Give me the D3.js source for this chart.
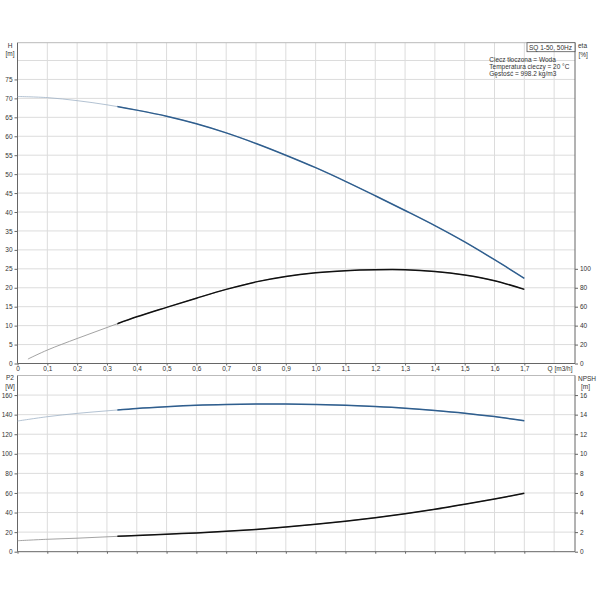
<!DOCTYPE html>
<html>
<head>
<meta charset="utf-8">
<script src="https://cdn.jsdelivr.net/npm/d3@7"></script>
<style>
  body { margin: 0; background: #fff; }
  svg text { font-family: "Liberation Sans", Arial, sans-serif; font-size: 6.5px; fill: #333; }
  .grid line { stroke: #dcdcdc; stroke-width: 1; }
  .axis path, .axis line { stroke: #666; }
</style>
</head>
<body>
<div id="chart"></div>
<script>
// flow points [m3/h]
var qMain = [0, 0.1, 0.2, 0.3, 0.4, 0.5, 0.6, 0.7, 0.8, 0.9, 1.0, 1.1, 1.2, 1.3, 1.4, 1.5, 1.6, 1.7];
var qEta = [0.035, 0.1, 0.2, 0.3, 0.4, 0.5, 0.6, 0.7, 0.8, 0.9, 1.0, 1.1, 1.2, 1.3, 1.4, 1.5, 1.6, 1.7];

// series
var headVals = [70.5, 70.2, 69.4, 68.3, 66.9, 65.3, 63.3, 60.9, 58.1, 55.0, 51.7, 48.1, 44.3, 40.4, 36.4, 32.1, 27.4, 22.5];
var etaVals = [4.7, 14.2, 26.4, 38.0, 49.3, 59.3, 69.0, 78.3, 86.2, 92.0, 95.8, 98.0, 99.0, 99.0, 97.2, 93.4, 87.4, 78.3];
var p2Vals = [133.5, 137.9, 141.3, 143.9, 146.4, 148.2, 149.6, 150.4, 150.8, 150.8, 150.4, 149.6, 148.3, 146.6, 144.3, 141.5, 138.0, 133.8];
var npshVals = [1.12, 1.27, 1.38, 1.52, 1.66, 1.79, 1.92, 2.08, 2.28, 2.52, 2.80, 3.12, 3.48, 3.88, 4.33, 4.84, 5.38, 5.96];

// ticks
var xTicks = [0, 0.1, 0.2, 0.3, 0.4, 0.5, 0.6, 0.7, 0.8, 0.9, 1.0, 1.1, 1.2, 1.3, 1.4, 1.5, 1.6, 1.7];
var xGrid = [0.1, 0.2, 0.3, 0.4, 0.5, 0.6, 0.7, 0.8, 0.9, 1.0, 1.1, 1.2, 1.3, 1.4, 1.5, 1.6, 1.7, 1.8];
var hTicks = [0, 5, 10, 15, 20, 25, 30, 35, 40, 45, 50, 55, 60, 65, 70, 75];
var hGrid = [5, 10, 15, 20, 25, 30, 35, 40, 45, 50, 55, 60, 65, 70, 75, 80];
var etaTicks = [0, 20, 40, 60, 80, 100];
var p2Ticks = [0, 20, 40, 60, 80, 100, 120, 140, 160];
var p2Grid = [20, 40, 60, 80, 100, 120, 140, 160];
var npshTicks = [0, 2, 4, 6, 8, 10, 12, 14, 16];

var infoLines = ["Ciecz tłoczona = Woda", "Temperatura cieczy = 20 °C", "Gęstość = 998.2 kg/m3"];

var svgWidth = 600, svgHeight = 600;
var left = 17.5, right = 575;
var top1 = 42.7, bot1 = 363.5;
var top2 = 375.5, bot2 = 551.7;
var qThick = 0.335; // where curves switch from thin to bold

var svg = d3.select("#chart").append("svg")
  .attr("width", svgWidth)
  .attr("height", svgHeight);

var x = d3.scaleLinear().domain([0, 1.87]).range([left, right]);
var yH = d3.scaleLinear().domain([0, 84.7]).range([bot1, top1]);
var yEta = d3.scaleLinear().domain([0, 84.7 * 4]).range([bot1, top1]);
var yP = d3.scaleLinear().domain([0, 180]).range([bot2, top2]);
var yN = d3.scaleLinear().domain([0, 18]).range([bot2, top2]);

var fmtQ = d => d === 0 ? "0" : d.toFixed(1).replace(".", ",");

// clip for bold part
var defs = svg.append("defs");
defs.append("clipPath").attr("id", "thick")
  .append("rect")
  .attr("x", x(qThick)).attr("y", 0)
  .attr("width", right - x(qThick) + 5).attr("height", svgHeight);

function drawGrid(yScale, yVals, top, bot) {
  var g = svg.append("g").attr("class", "grid");
  g.selectAll(".v").data(xGrid).join("line")
    .attr("x1", d => x(d)).attr("x2", d => x(d))
    .attr("y1", top).attr("y2", bot);
  g.selectAll(".h").data(yVals).join("line")
    .attr("x1", left).attr("x2", right)
    .attr("y1", d => yScale(d)).attr("y2", d => yScale(d));
  // frame top
  svg.append("line")
    .attr("x1", left).attr("x2", right).attr("y1", top).attr("y2", top)
    .attr("stroke", "#bbb");
}

drawGrid(yH, hGrid, top1, bot1);
drawGrid(yP, p2Grid, top2, bot2);

// axes, top panel
svg.append("g").attr("class", "axis")
  .attr("transform", `translate(${left},0)`)
  .call(d3.axisLeft(yH).tickValues(hTicks).tickSize(3).tickPadding(2))
  .call(g => g.select(".domain").attr("d", `M0,${bot1}V${top1}`));

svg.append("g").attr("class", "axis")
  .attr("transform", `translate(${right},0)`)
  .call(d3.axisRight(yEta).tickValues(etaTicks).tickSize(3).tickPadding(2))
  .call(g => g.select(".domain").attr("d", `M0,${bot1}V${top1}`));

svg.append("g").attr("class", "axis")
  .attr("transform", `translate(0,${bot1})`)
  .call(d3.axisBottom(x).tickValues(xTicks).tickFormat(fmtQ).tickSize(2).tickPadding(1))
  .call(g => g.select(".domain").attr("d", `M${left},0H${right}`));

// axes, bottom panel
svg.append("g").attr("class", "axis")
  .attr("transform", `translate(${left},0)`)
  .call(d3.axisLeft(yP).tickValues(p2Ticks).tickSize(3).tickPadding(2))
  .call(g => g.select(".domain").attr("d", `M0,${bot2}V${top2}`));

svg.append("g").attr("class", "axis")
  .attr("transform", `translate(${right},0)`)
  .call(d3.axisRight(yN).tickValues(npshTicks).tickSize(3).tickPadding(2))
  .call(g => g.select(".domain").attr("d", `M0,${bot2}V${top2}`));

svg.append("g").attr("class", "axis")
  .attr("transform", `translate(0,${bot2})`)
  .call(d3.axisBottom(x).tickValues(xTicks).tickFormat("").tickSize(2))
  .call(g => g.select(".domain").attr("d", `M${left},0H${right}`));

svg.selectAll(".axis text").style("font-size", "6.5px").attr("fill", "#333");

// curves
function drawCurve(qs, vals, yScale, thinColor, boldColor) {
  var pts = qs.map((q, i) => [q, vals[i]]);
  var line = d3.line()
    .x(d => x(d[0]))
    .y(d => yScale(d[1]))
    .curve(d3.curveCatmullRom);
  svg.append("path").datum(pts)
    .attr("d", line).attr("fill", "none")
    .attr("stroke", thinColor).attr("stroke-width", 0.8);
  svg.append("path").datum(pts)
    .attr("d", line).attr("fill", "none")
    .attr("clip-path", "url(#thick)")
    .attr("stroke", boldColor).attr("stroke-width", 1.5);
}

drawCurve(qMain, headVals, yH, "#9fb2c6", "#2f5e8e");
drawCurve(qEta, etaVals, yEta, "#8c8c8c", "#111");
drawCurve(qMain, p2Vals, yP, "#9fb2c6", "#2f5e8e");
drawCurve(qMain, npshVals, yN, "#8c8c8c", "#111");

// axis titles
svg.append("text").attr("x", 10).attr("y", 47.5).attr("text-anchor", "middle").text("H");
svg.append("text").attr("x", 10).attr("y", 56).attr("text-anchor", "middle").text("[m]");
svg.append("text").attr("x", 10).attr("y", 380).attr("text-anchor", "middle").text("P2");
svg.append("text").attr("x", 10).attr("y", 388.5).attr("text-anchor", "middle").text("[W]");
svg.append("text").attr("x", 578).attr("y", 48).text("eta");
svg.append("text").attr("x", 578.5).attr("y", 56.5).text("[%]");
svg.append("text").attr("x", 578).attr("y", 380.5).text("NPSH");
svg.append("text").attr("x", 581).attr("y", 389).text("[m]");
svg.append("text").attr("x", 572.5).attr("y", 370.5).attr("text-anchor", "end").text("Q [m3/h]");

// pump name box
svg.append("rect")
  .attr("x", 527).attr("y", top1).attr("width", right - 527).attr("height", 9)
  .attr("fill", "#fff").attr("stroke", "#555").attr("stroke-width", 0.8);
svg.append("text").attr("x", 529).attr("y", 49.8).text("SQ 1-50, 50Hz");

svg.selectAll(".info").data(infoLines).join("text")
  .attr("class", "info")
  .attr("x", 489.3)
  .attr("y", (d, i) => 61.5 + i * 7.2)
  .text(d => d);
</script>
</body>
</html>
